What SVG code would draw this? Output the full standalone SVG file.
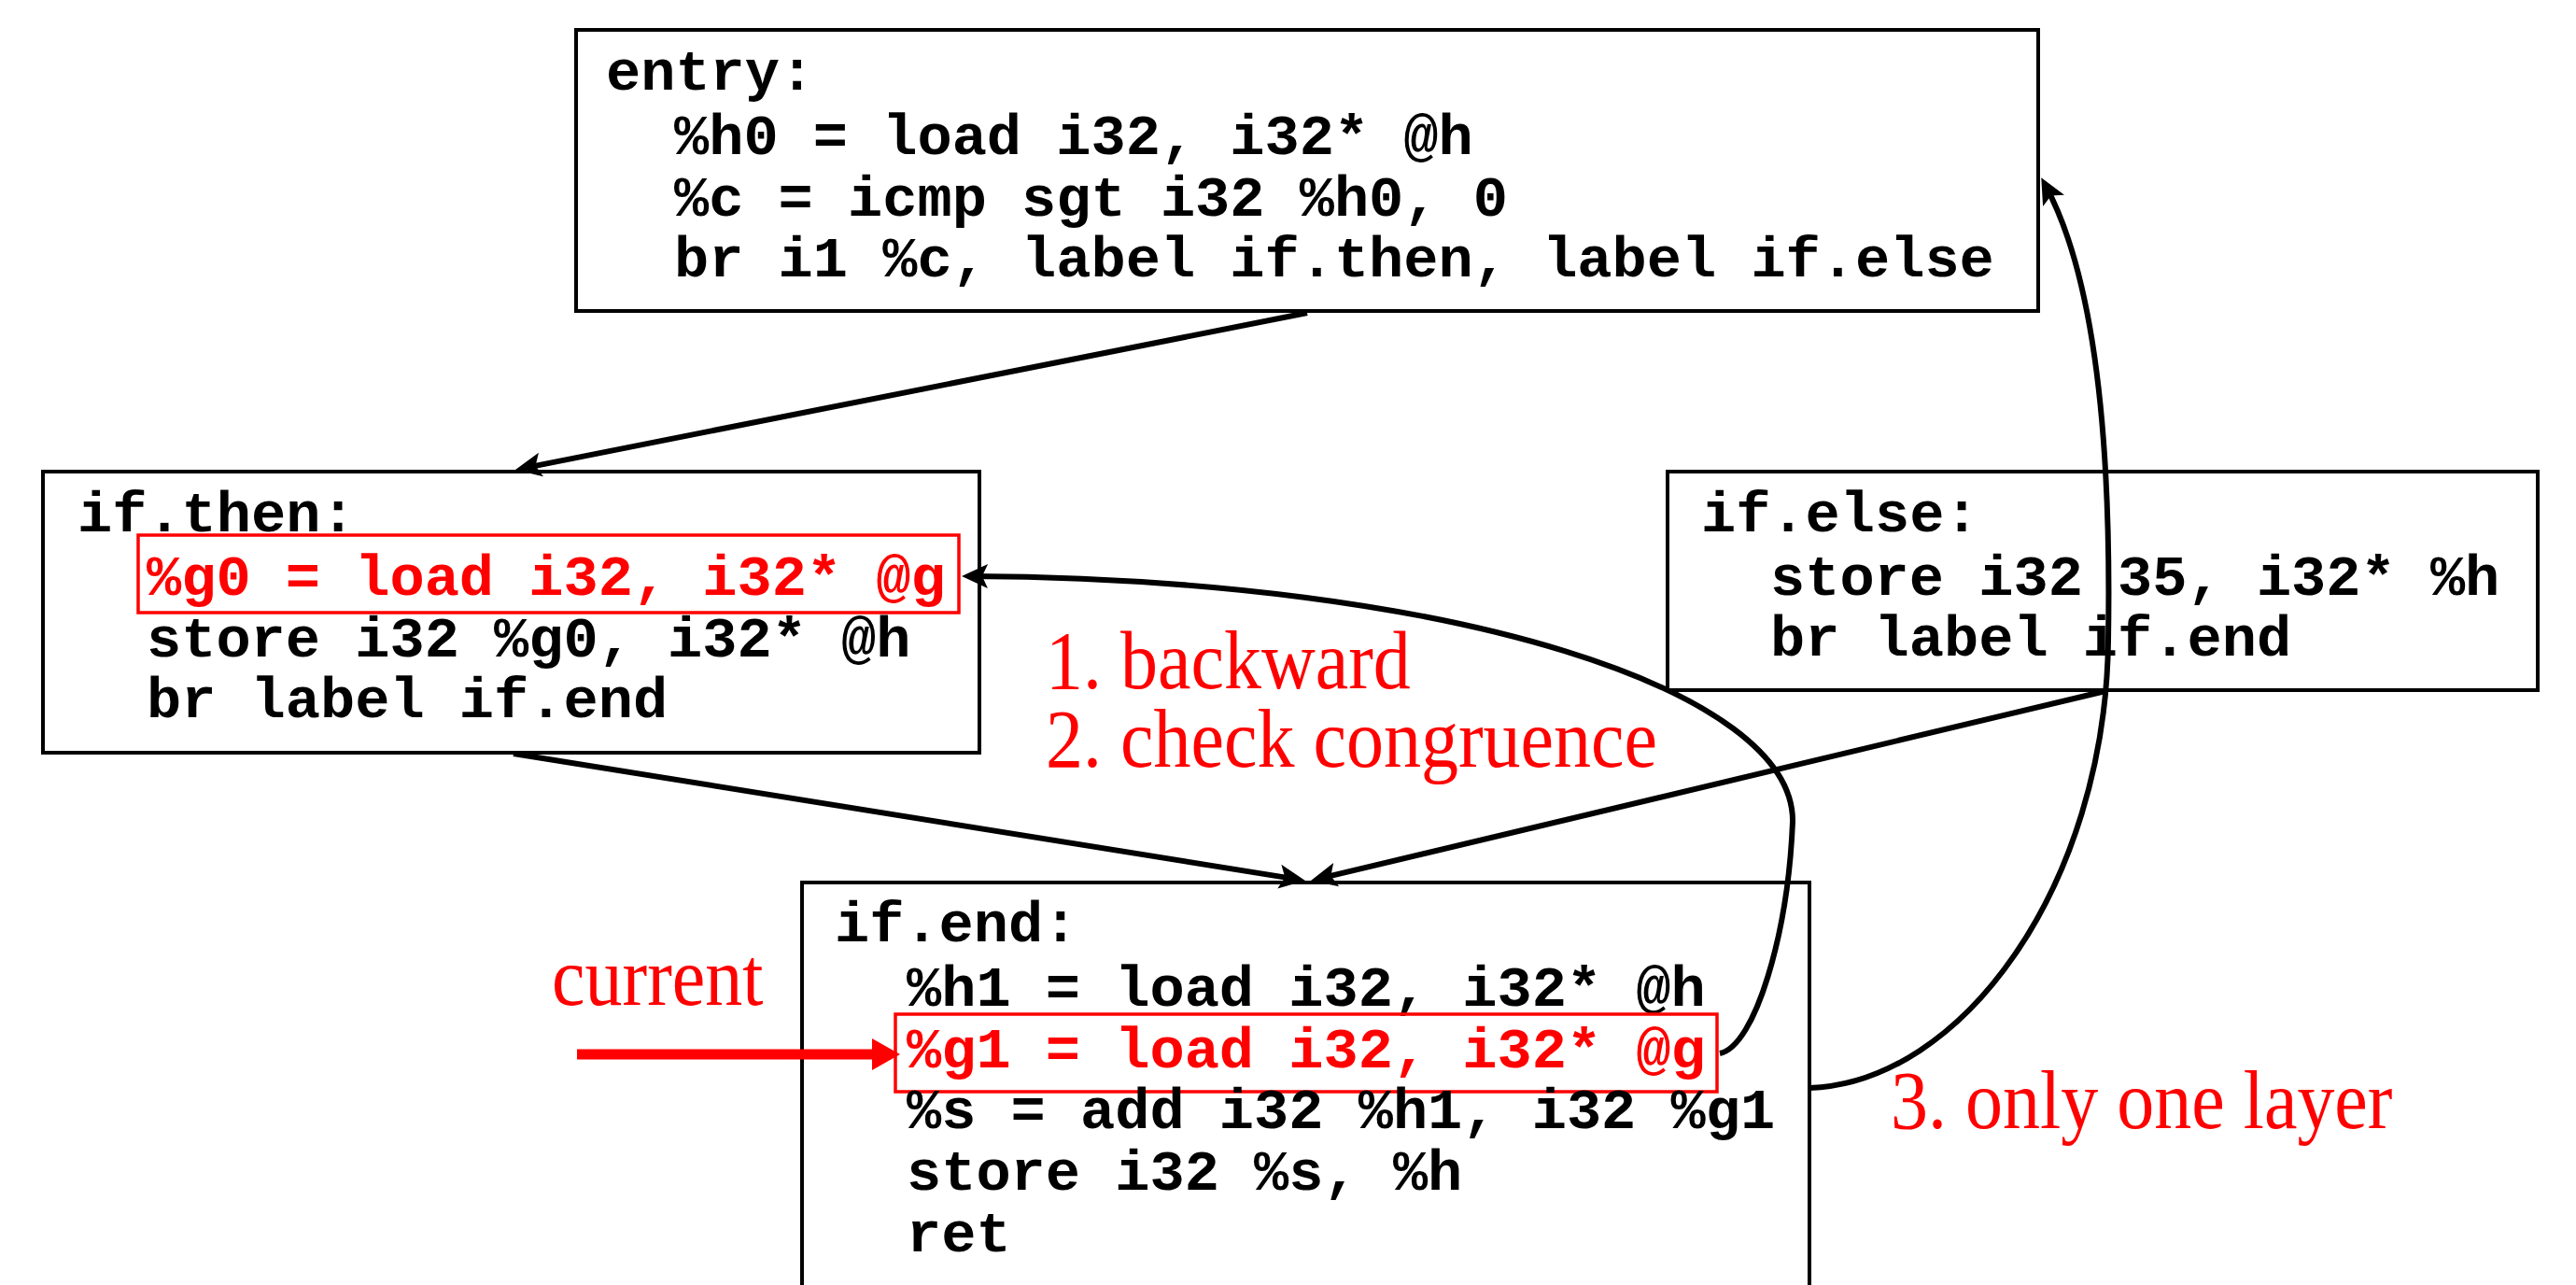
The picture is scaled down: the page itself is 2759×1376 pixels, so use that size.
<svg xmlns="http://www.w3.org/2000/svg" width="2759" height="1376" viewBox="0 0 2759 1376">
<style>
.box{fill:#fff;stroke:#000;stroke-width:4}
.hl{fill:none;stroke:#f00;stroke-width:3.5}
.code{font-family:"Liberation Mono","Courier New",monospace;font-weight:bold;font-size:62px;fill:#000}
.red{fill:#f00}
.note{font-family:"Liberation Serif","Times New Roman",serif;font-size:80px;fill:#f00}
.conn{fill:none;stroke:#000;stroke-width:6}
</style>
<defs>
<marker id="ah" markerUnits="userSpaceOnUse" viewBox="-32 -15 34 30" markerWidth="34" markerHeight="30" refX="-10" refY="0" orient="auto">
<path d="M0,0 L-28,-13 L-22,0 L-28,13 Z" fill="#000"/>
</marker>
</defs>
<rect width="2759" height="1376" fill="#fff"/>
<g id="entry">
<rect class="box" x="617" y="32" width="1566" height="301"/>
<text class="code" x="649" y="96">entry:</text>
<text class="code" x="722" y="165">%h0 = load i32, i32* @h</text>
<text class="code" x="722" y="231">%c = icmp sgt i32 %h0, 0</text>
<text class="code" x="722" y="296">br i1 %c, label if.then, label if.else</text>
</g>
<g id="if.then">
<rect class="box" x="46" y="505" width="1003" height="301"/>
<text class="code" x="83" y="569">if.then:</text>
<rect class="hl" x="148" y="573" width="879" height="83"/>
<text class="code red" x="157" y="637">%g0 = load i32, i32* @g</text>
<text class="code" x="157" y="703">store i32 %g0, i32* @h</text>
<text class="code" x="157" y="768">br label if.end</text>
</g>
<g id="if.else">
<rect class="box" x="1786" y="505" width="932" height="234"/>
<text class="code" x="1822" y="569">if.else:</text>
<text class="code" x="1896" y="637">store i32 35, i32* %h</text>
<text class="code" x="1896" y="702">br label if.end</text>
</g>
<g id="if.end">
<rect class="box" x="859" y="945" width="1079" height="480"/>
<text class="code" x="894" y="1008">if.end:</text>
<text class="code" x="971" y="1077">%h1 = load i32, i32* @h</text>
<rect class="hl" x="959" y="1086" width="880" height="83"/>
<text class="code red" x="971" y="1143">%g1 = load i32, i32* @g</text>
<text class="code" x="971" y="1208">%s = add i32 %h1, i32 %g1</text>
<text class="code" x="971" y="1274">store i32 %s, %h</text>
<text class="code" x="971" y="1340">ret</text>
</g>
<g id="connectors">
<line class="conn" x1="1400" y1="335" x2="561.8" y2="501.1" marker-end="url(#ah)"/>
<line class="conn" x1="550" y1="807" x2="1388.1" y2="941.4" marker-end="url(#ah)"/>
<line class="conn" x1="2255" y1="740" x2="1413.7" y2="940.7" marker-end="url(#ah)"/>
<path class="conn" d="M1842,1128 C1880,1120 1915,1000 1920,880 C1922,740 1560,620 1040,617" marker-end="url(#ah)"/>
<path class="conn" d="M1938,1165 C2100,1160 2255,950 2258,686 C2262,450 2240,290 2191,199" marker-end="url(#ah)"/>
<g id="current-arrow">
<rect x="618" y="1123.5" width="320" height="11" fill="#f00"/>
<polygon points="964,1129 934,1112 934,1146" fill="#f00"/>
</g>
</g>
<g id="labels">
<text class="note" transform="translate(591,1076) scale(1,1.1)">current</text>
<text class="note" transform="translate(1120,737) scale(1,1.1)"><tspan x="0" y="0">1. backward</tspan><tspan x="0" y="76.4">2. check congruence</tspan></text>
<text class="note" transform="translate(2025,1208) scale(1,1.1)">3. only one layer</text>
</g>
</svg>
